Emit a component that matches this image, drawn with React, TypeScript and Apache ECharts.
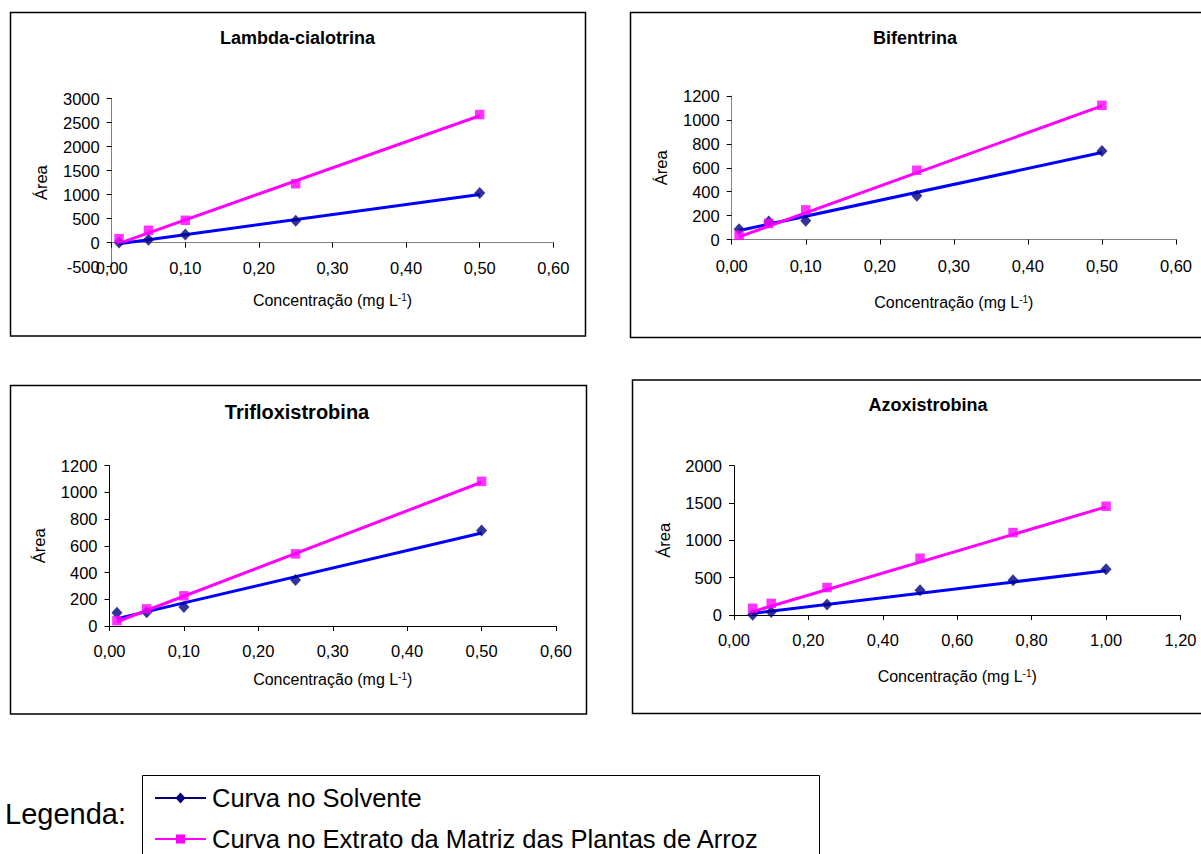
import React, { useEffect, useRef } from "react";
import * as echarts from "echarts";

const FONT = "'Liberation Sans', Arial, Helvetica, sans-serif";

// ---- texts ----
const chartTitles = ["Lambda-cialotrina", "Bifentrina", "Trifloxistrobina", "Azoxistrobina"];
const yAxisName = "Área";
const xAxisName = "Concentração (mg L{sup|-1})";
const legendTitle = "Legenda:";
const seriesNames = ["Curva no Solvente", "Curva no Extrato da Matriz das Plantas de Arroz"];

// ---- data (concentration in mg/L, area) ----
const lambdaConc = [0.01, 0.05, 0.1, 0.25, 0.5];
const lambdaSolvente = [5, 63, 170, 455, 1034];
const lambdaMatriz = [84, 258, 467, 1228, 2669];
const lambdaTrendSolvente = [-20, 1005];
const lambdaTrendMatriz = [-15, 2645];

const bifConc = [0.01, 0.05, 0.1, 0.25, 0.5];
const bifSolvente = [86, 150, 156, 365, 741];
const bifMatriz = [35, 134, 248, 579, 1122];
const bifTrendSolvente = [75, 727];
const bifTrendMatriz = [22, 1117];

const triConc = [0.01, 0.05, 0.1, 0.25, 0.5];
const triSolvente = [100, 103, 142, 344, 714];
const triMatriz = [40, 128, 226, 540, 1083];
const triTrendSolvente = [55, 696];
const triTrendMatriz = [32, 1076];

const azoConc = [0.05, 0.1, 0.25, 0.5, 0.75, 1.0];
const azoSolvente = [5, 40, 140, 330, 465, 612];
const azoMatriz = [90, 155, 368, 760, 1104, 1457];
const azoTrendSolvente = [23, 592];
const azoTrendMatriz = [45, 1448];

// ---- axis scales ----
const xMaxes = [0.6, 0.6, 0.6, 1.2];
const xIntervals = [0.1, 0.1, 0.1, 0.2];
const yMins = [-500, 0, 0, 0];
const yMaxes = [3000, 1200, 1200, 2000];
const yIntervals = [500, 200, 200, 500];

const charts = [
  { conc: lambdaConc, solv: lambdaSolvente, matr: lambdaMatriz, tSolv: lambdaTrendSolvente, tMatr: lambdaTrendMatriz },
  { conc: bifConc, solv: bifSolvente, matr: bifMatriz, tSolv: bifTrendSolvente, tMatr: bifTrendMatriz },
  { conc: triConc, solv: triSolvente, matr: triMatriz, tSolv: triTrendSolvente, tMatr: triTrendMatriz },
  { conc: azoConc, solv: azoSolvente, matr: azoMatriz, tSolv: azoTrendSolvente, tMatr: azoTrendMatriz },
];

// ---- layout / style ----
const layouts = [
  { box: [10.5, 12.5, 575, 323.5], grid: { left: 111.7, top: 98.7, width: 441.6, height: 168 }, titleX: 297.5, titleY: 38, titleSize: 18, axisColor: "#808080", xNameGap: 50, labelMargin: 17 },
  { box: [630.5, 12.5, 620, 325], grid: { left: 731.7, top: 96, width: 444.3, height: 143.5 }, titleX: 915, titleY: 38, titleSize: 18, axisColor: "#808080", xNameGap: 55, labelMargin: 18 },
  { box: [10.5, 385.5, 576, 328.5], grid: { left: 109.5, top: 465.7, width: 446.5, height: 160.3 }, titleX: 297, titleY: 412, titleSize: 20, axisColor: "#000000", xNameGap: 45, labelMargin: 16 },
  { box: [632.5, 380, 620, 333.5], grid: { left: 734, top: 465.7, width: 446.5, height: 149.3 }, titleX: 928, titleY: 405, titleSize: 18, axisColor: "#000000", xNameGap: 53, labelMargin: 16 },
];

const NAVY = "#000080";
const BLUE = "#0000FF";
const MAGENTA = "#FF00FF";
const LABEL_SIZE = 16.5;

export default function App() {
  const ref = useRef<HTMLDivElement>(null);

  useEffect(() => {
    if (!ref.current) return;
    const chart = echarts.init(ref.current, null, { renderer: "svg" });

    const grids: any[] = [];
    const xAxes: any[] = [];
    const yAxes: any[] = [];
    const series: any[] = [];
    const graphics: any[] = [];

    charts.forEach((c, i) => {
      const L = layouts[i];
      // the x axis crosses the y axis at zero: shift it up from the grid bottom by the pixel size of |yMin|
      const zeroOffset = yMins[i] < 0 ? -(L.grid.height * (0 - yMins[i])) / (yMaxes[i] - yMins[i]) : 0;
      grids.push({ ...L.grid, containLabel: false, outerBoundsMode: "none" });
      xAxes.push({
        type: "value",
        gridIndex: i,
        position: "bottom",
        offset: zeroOffset,
        min: 0,
        max: xMaxes[i],
        interval: xIntervals[i],
        axisLine: { show: true, onZero: false, lineStyle: { color: L.axisColor, width: 1 } },
        axisTick: { show: true, inside: false, length: 5, lineStyle: { color: "#000", width: 1 } },
        splitLine: { show: false },
        axisLabel: {
          color: "#000",
          fontFamily: FONT,
          fontSize: LABEL_SIZE,
          margin: L.labelMargin,
          formatter: (v: number) => v.toFixed(2).replace(".", ","),
        },
        name: xAxisName,
        nameLocation: "middle",
        nameGap: L.xNameGap,
        nameTextStyle: {
          color: "#000",
          fontFamily: FONT,
          fontSize: 16,
          rich: { sup: { fontSize: 10, fontFamily: FONT, color: "#000", verticalAlign: "top", lineHeight: 10 } },
        },
      });
      yAxes.push({
        type: "value",
        gridIndex: i,
        min: yMins[i],
        max: yMaxes[i],
        interval: yIntervals[i],
        axisLine: { show: true, onZero: false, lineStyle: { color: L.axisColor, width: 1 } },
        axisTick: { show: true, inside: false, length: 5, lineStyle: { color: "#000", width: 1 } },
        splitLine: { show: false },
        axisLabel: {
          color: "#000",
          fontFamily: FONT,
          fontSize: LABEL_SIZE,
          margin: 12,
          formatter: (v: number) => String(v),
        },
        name: yAxisName,
        nameLocation: "middle",
        nameRotate: 90,
        nameGap: 62,
        nameTextStyle: { color: "#000", fontFamily: FONT, fontSize: 16.5 },
      });

      const first = c.conc[0];
      const last = c.conc[c.conc.length - 1];
      series.push({
        type: "line",
        xAxisIndex: i,
        yAxisIndex: i,
        data: [[first, c.tSolv[0]], [last, c.tSolv[1]]],
        symbol: "none",
        lineStyle: { color: BLUE, width: 3 },
        z: 2,
        silent: true,
      });
      series.push({
        type: "line",
        xAxisIndex: i,
        yAxisIndex: i,
        data: [[first, c.tMatr[0]], [last, c.tMatr[1]]],
        symbol: "none",
        lineStyle: { color: MAGENTA, width: 3 },
        z: 2,
        silent: true,
      });
      series.push({
        type: "scatter",
        name: seriesNames[0],
        xAxisIndex: i,
        yAxisIndex: i,
        data: c.conc.map((x, k) => [x, c.solv[k]]),
        symbol: "diamond",
        symbolSize: [11, 12],
        itemStyle: { color: NAVY },
        z: 3,
      });
      series.push({
        type: "scatter",
        name: seriesNames[1],
        xAxisIndex: i,
        yAxisIndex: i,
        data: c.conc.map((x, k) => [x, c.matr[k]]),
        symbol: "rect",
        symbolSize: 9.5,
        itemStyle: { color: MAGENTA },
        z: 4,
      });

      graphics.push({
        type: "rect",
        shape: { x: L.box[0], y: L.box[1], width: L.box[2], height: L.box[3] },
        style: { fill: "none", stroke: "#000", lineWidth: 1.5 },
        z: 0,
      });
      graphics.push({
        type: "text",
        x: L.titleX,
        y: L.titleY,
        style: {
          text: chartTitles[i],
          font: `bold ${L.titleSize}px ${FONT}`,
          fill: "#000",
          textAlign: "center",
          textVerticalAlign: "middle",
        },
      });
    });

    // legend
    graphics.push({
      type: "text",
      x: 5,
      y: 814,
      style: { text: legendTitle, font: `29px ${FONT}`, fill: "#000", textAlign: "left", textVerticalAlign: "middle" },
    });
    graphics.push({
      type: "rect",
      shape: { x: 142.5, y: 775.5, width: 677, height: 120 },
      style: { fill: "none", stroke: "#000", lineWidth: 1 },
    });
    graphics.push({
      type: "line",
      shape: { x1: 155, y1: 798, x2: 206, y2: 798 },
      style: { stroke: NAVY, lineWidth: 2 },
    });
    graphics.push({
      type: "polygon",
      shape: { points: [[180.5, 792.5], [185.5, 798], [180.5, 803.5], [175.5, 798]] },
      style: { fill: NAVY },
    });
    graphics.push({
      type: "text",
      x: 212,
      y: 798,
      style: { text: seriesNames[0], font: `25.5px ${FONT}`, fill: "#000", textAlign: "left", textVerticalAlign: "middle" },
    });
    graphics.push({
      type: "line",
      shape: { x1: 155, y1: 839, x2: 206, y2: 839 },
      style: { stroke: MAGENTA, lineWidth: 2 },
    });
    graphics.push({
      type: "rect",
      shape: { x: 176, y: 834.5, width: 9, height: 9 },
      style: { fill: MAGENTA },
    });
    graphics.push({
      type: "text",
      x: 212,
      y: 839,
      style: { text: seriesNames[1], font: `25.5px ${FONT}`, fill: "#000", textAlign: "left", textVerticalAlign: "middle" },
    });

    chart.setOption({
      animation: false,
      backgroundColor: "#ffffff",
      grid: grids,
      xAxis: xAxes,
      yAxis: yAxes,
      series,
      graphic: { elements: graphics },
    });

    return () => chart.dispose();
  }, []);

  return (
    <div
      ref={ref}
      style={{ position: "absolute", left: 0, top: 0, width: 1201, height: 854, background: "#fff" }}
    />
  );
}
